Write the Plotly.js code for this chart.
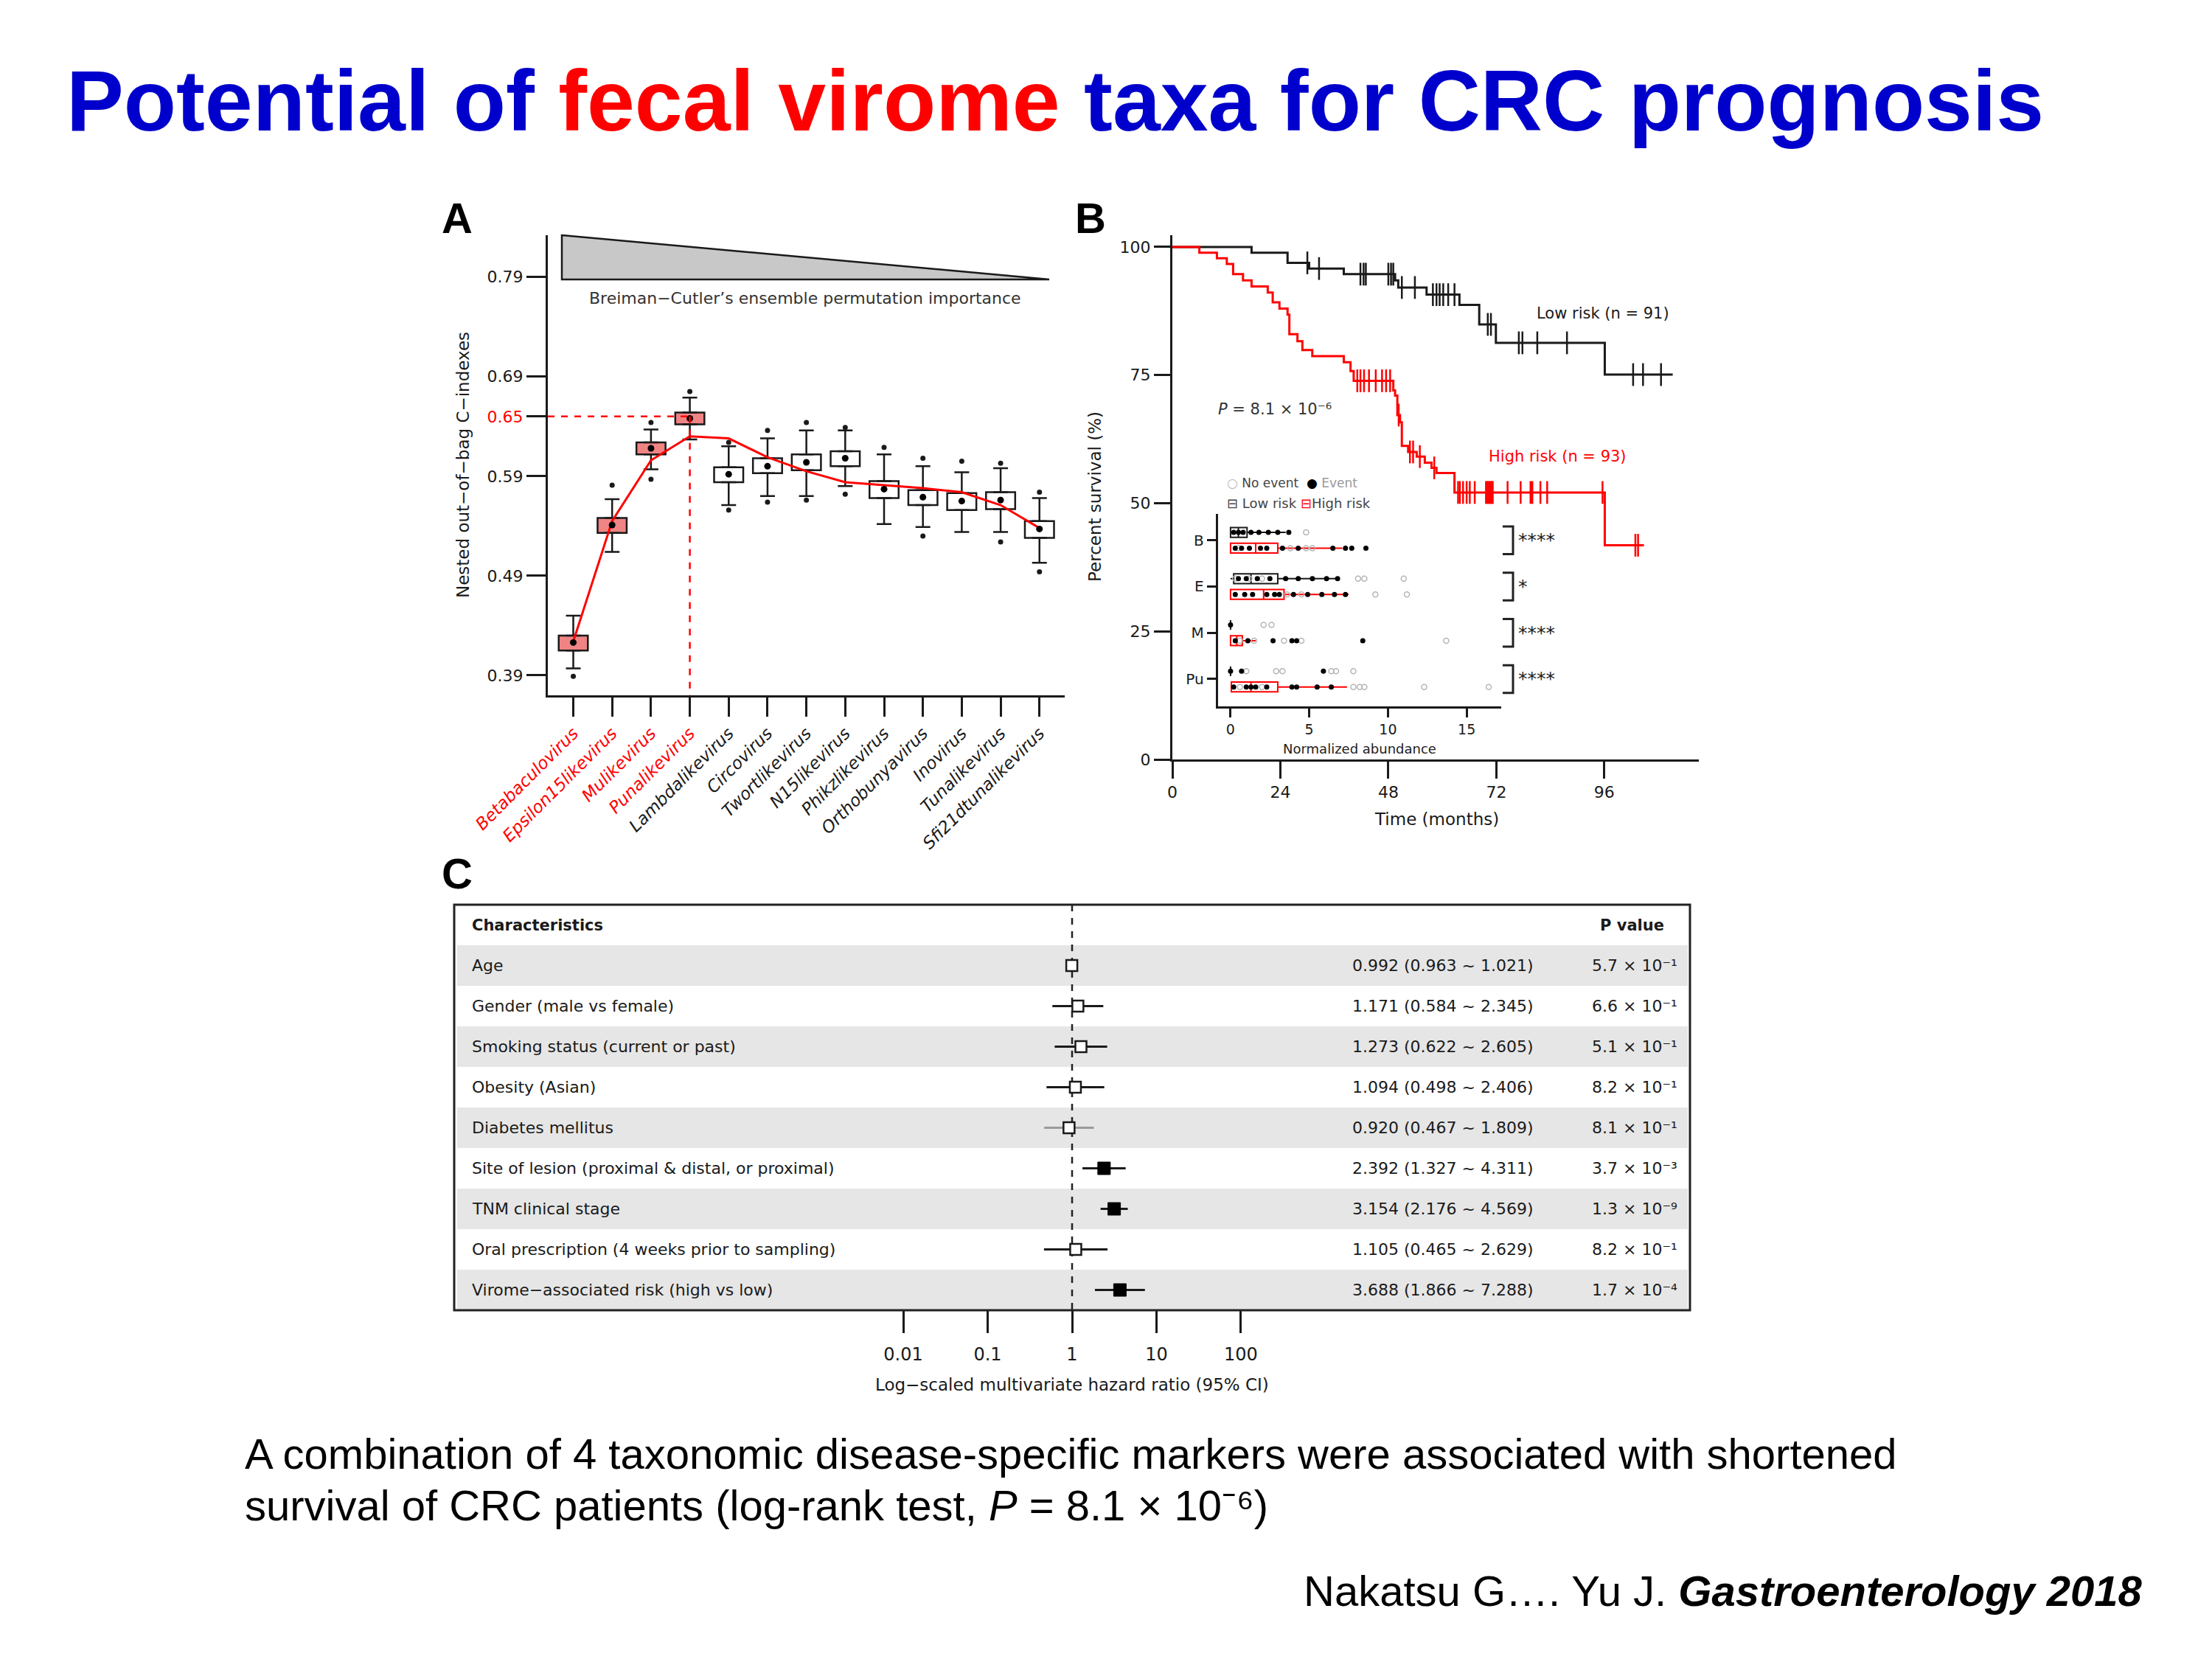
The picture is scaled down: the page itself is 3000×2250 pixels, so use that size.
<!DOCTYPE html>
<html><head><meta charset="utf-8">
<script src="https://cdn.plot.ly/plotly-3.0.1.min.js"></script>
<style>html,body{margin:0;padding:0;background:#fff;}#chart{width:3000px;height:2250px;}</style>
</head><body><div id="chart"></div>
<script>
// ================= DATA =================
// Panel A: nested out-of-bag C-indexes per genus (box statistics)
const genera = ['Betabaculovirus','Epsilon15likevirus','Mulikevirus','Punalikevirus','Lambdalikevirus','Circovirus','Twortlikevirus','N15likevirus','Phikzlikevirus','Orthobunyavirus','Inovirus','Tunalikevirus','Sfi21dtunalikevirus'];
const nSelected = 4;
const optimalC = 0.65;
const boxQ1  = [0.415,0.533,0.612,0.642,0.584,0.593,0.596,0.600,0.568,0.561,0.556,0.557,0.528];
const boxMed = [0.423,0.541,0.618,0.648,0.592,0.600,0.604,0.608,0.577,0.569,0.565,0.566,0.537];
const boxQ3  = [0.430,0.548,0.624,0.654,0.599,0.608,0.612,0.615,0.585,0.576,0.573,0.574,0.545];
const whiskLo = [0.397,0.514,0.597,0.627,0.561,0.570,0.570,0.580,0.542,0.539,0.534,0.534,0.503];
const whiskHi = [0.450,0.567,0.637,0.669,0.620,0.628,0.636,0.636,0.612,0.600,0.594,0.598,0.568];
const outlierGenus = ['Betabaculovirus','Epsilon15likevirus','Mulikevirus','Mulikevirus','Punalikevirus','Lambdalikevirus','Lambdalikevirus','Circovirus','Circovirus','Twortlikevirus','Twortlikevirus','N15likevirus','N15likevirus','Phikzlikevirus','Orthobunyavirus','Orthobunyavirus','Inovirus','Tunalikevirus','Tunalikevirus','Sfi21dtunalikevirus','Sfi21dtunalikevirus'];
const outlierC = [0.389,0.581,0.644,0.587,0.675,0.624,0.556,0.636,0.564,0.644,0.566,0.639,0.572,0.619,0.608,0.530,0.605,0.603,0.524,0.574,0.494];
const trendC = [0.424,0.545,0.606,0.630,0.628,0.609,0.595,0.584,0.581,0.578,0.574,0.561,0.538];
const yTicksA = [0.39,0.49,0.59,0.65,0.69,0.79];

// Panel B: Kaplan-Meier curves
const lowStepT = [17.6,25.6,30.4,38.1,49.5,50.2,56.5,63.8,68.2,71.9,96.1];
const lowStepS = [98.9,96.9,95.8,94.7,93.5,92.1,90.7,88.7,84.9,81.3,75.1];
const lowEndT = 111.2;
const lowCensorT = [30.0,32.6,41.8,42.5,43.0,48.0,48.6,49.1,51.0,53.9,57.9,58.7,59.4,60.2,61.3,62.7,70.1,70.8,77.0,77.8,81.1,87.7,102.4,104.6,108.6];
const highStepT = [6.0,9.9,12.1,13.5,15.7,17.6,21.2,22.3,23.8,25.6,26.0,27.8,28.9,31.1,38.1,39.6,40.3,49.1,49.5,50.0,50.6,51.0,52.4,54.3,56.1,57.6,58.7,62.7,96.1];
const highStepS = [98.9,97.8,96.7,94.7,93.5,92.3,91.1,89.2,88.0,86.8,83.0,81.6,79.9,78.7,77.5,75.8,73.9,72.0,71.0,67.2,65.8,61.2,60.0,59.1,57.9,56.9,55.9,52.1,41.8];
const highEndT = 104.8;
const highCensorT = [41.1,41.8,42.6,43.7,45.2,46.6,47.5,48.4,50.3,52.8,53.5,55.0,58.2,63.5,63.9,64.6,65.4,66.1,67.2,69.7,70.0,70.2,70.5,70.7,71.0,71.2,74.5,77.4,79.6,80.0,81.8,83.3,95.6,102.9,103.5];
const kmTicksX = [0,24,48,72,96];
const kmTicksY = [0,25,50,75,100];

// Panel B inset: normalized abundance of the four markers
const markers = ['B','E','M','Pu'];
const markerPos = [4,3,2,1];
const markerSig = ['****','*','****','****'];
const lowQ1 = [0.0,0.2,0.0,0.0], lowMed = [0.5,1.3,0.0,0.0], lowQ3 = [1.05,3.0,0.0,0.0], lowLo = [0,0,0,0], lowHi = [3.5,6.7,0.0,0.0];
const highQ1 = [0.0,0.0,0.0,0.05], highMed = [1.6,2.1,0.4,1.3], highQ3 = [3.0,3.4,0.75,3.0], highLo = [0,0,0,0], highHi = [7.1,7.5,1.6,7.4];
const lowEventVal = [[0.2,0.5,0.8,1.3,1.8,2.4,3.0,3.7],[0.5,1.0,1.7,2.5,3.5,4.3,5.2,6.1,6.8],[0.0],[0.0,0.7,5.9]];
const lowCensVal  = [[4.8],[0.3,1.2,2.0,8.1,8.5,11.0],[2.1,2.6],[1.0,2.9,3.3,6.4,6.7,7.8]];
const highEventVal = [[0.3,0.7,1.2,1.9,2.3,3.3,4.3,6.5,7.3,7.7,8.6],[0.3,0.9,1.4,2.3,2.8,3.1,4.0,4.9,5.8,6.6,7.3],[0.3,1.1,2.7,3.9,4.2,8.4],[0.2,1.0,1.3,1.6,2.3,3.9,4.2,5.5,6.4]];
const highCensVal  = [[0.5,3.8,4.8,5.2],[3.6,4.5,9.2,11.2],[0.6,1.5,3.4,4.5,13.7],[0.6,2.0,7.8,8.2,8.5,12.3,16.4]];
const abundTicks = [0,5,10,15];

// Panel C: multivariate Cox regression
const characteristics = ['Age','Gender (male vs female)','Smoking status (current or past)','Obesity (Asian)','Diabetes mellitus','Site of lesion (proximal &amp; distal, or proximal)','TNM clinical stage','Oral prescription (4 weeks prior to sampling)','Virome\u2212associated risk (high vs low)'];
const hr     = [0.992,1.171,1.273,1.094,0.920,2.392,3.154,1.105,3.688];
const hrLow  = [0.963,0.584,0.622,0.498,0.467,1.327,2.176,0.465,1.866];
const hrHigh = [1.021,2.345,2.605,2.406,1.809,4.311,4.569,2.629,7.288];
const pMantissa = [5.7,6.6,5.1,8.2,8.1,3.7,1.3,8.2,1.7];
const pExponent = [-1,-1,-1,-1,-1,-3,-9,-1,-4];
const hrTicks = [0.01,0.1,1,10,100];

// ================= HELPERS =================
const W = 3000, H = 2250;
const px = v => v / W;
const py = v => 1 - v / H;
const FIG = 'DejaVu Sans, Verdana, sans-serif';
const SLIDE = 'Liberation Sans, Arial, Helvetica, sans-serif';
const INK = '#1a1a1a';
const SUP = {'-': '\u207b', '0': '\u2070', '1': '\u00b9', '2': '\u00b2', '3': '\u00b3', '4': '\u2074', '5': '\u2075', '6': '\u2076', '7': '\u2077', '8': '\u2078', '9': '\u2079'};
const supNum = n => String(n).split('').map(c => SUP[c] || c).join('');

const traces = [];
const shapes = [];
const annotations = [];

function ann(text, x, y, o) {
  o = o || {};
  annotations.push(Object.assign({
    text: text, x: x, y: y, xref: 'paper', yref: 'paper', showarrow: false,
    xanchor: 'left', yanchor: 'middle',
    font: {family: FIG, size: 22, color: INK}
  }, o));
}

// ================= PANEL A =================
traces.push({
  type: 'bar', x: genera, base: boxQ1, y: boxQ3.map((q, i) => q - boxQ1[i]), width: 0.75,
  marker: {color: genera.map((g, i) => i < nSelected ? '#F08484' : '#FFFFFF'), line: {color: INK, width: 2.5}},
  xaxis: 'x', yaxis: 'y', hoverinfo: 'skip', showlegend: false
});
traces.push({
  type: 'scatter', mode: 'markers', x: genera, y: boxQ3, marker: {size: 1, opacity: 0},
  error_y: {type: 'data', symmetric: false, array: whiskHi.map((w, i) => w - boxQ3[i]), arrayminus: boxQ3.map(() => 0), width: 10, thickness: 2.5, color: INK},
  xaxis: 'x', yaxis: 'y', showlegend: false, hoverinfo: 'skip'
});
traces.push({
  type: 'scatter', mode: 'markers', x: genera, y: boxQ1, marker: {size: 1, opacity: 0},
  error_y: {type: 'data', symmetric: false, array: boxQ1.map(() => 0), arrayminus: whiskLo.map((w, i) => boxQ1[i] - w), width: 10, thickness: 2.5, color: INK},
  xaxis: 'x', yaxis: 'y', showlegend: false, hoverinfo: 'skip'
});
traces.push({
  type: 'scatter', mode: 'markers', x: outlierGenus, y: outlierC,
  marker: {symbol: 'circle', size: 7, color: INK}, xaxis: 'x', yaxis: 'y', showlegend: false, hoverinfo: 'skip'
});
traces.push({
  type: 'scatter', mode: 'lines', x: genera, y: trendC, line: {color: '#FF0000', width: 3},
  xaxis: 'x', yaxis: 'y', showlegend: false, hoverinfo: 'skip'
});
traces.push({
  type: 'scatter', mode: 'markers', x: genera, y: boxMed, marker: {symbol: 'circle', size: 9, color: '#000'},
  xaxis: 'x', yaxis: 'y', showlegend: false, hoverinfo: 'skip'
});
// optimum marker lines
const optIdx = nSelected - 1;
shapes.push({type: 'line', xref: 'x', yref: 'y', x0: -0.655, x1: optIdx, y0: optimalC, y1: optimalC, line: {color: '#FF0000', width: 2.5, dash: 'dash'}});
shapes.push({type: 'line', xref: 'x', yref: 'y', x0: optIdx, x1: optIdx, y0: optimalC, y1: 0.37, line: {color: '#FF0000', width: 2.5, dash: 'dash'}});
// importance wedge
shapes.push({type: 'path', xref: 'paper', yref: 'paper',
  path: `M ${px(762)},${py(319)} L ${px(762)},${py(379)} L ${px(1423)},${py(379)} Z`,
  fillcolor: '#C8C8C8', line: {color: INK, width: 2.5}});
ann('Breiman\u2212Cutler\u2019s ensemble permutation importance', px(1092), py(404), {xanchor: 'center', font: {family: FIG, size: 22, color: '#333'}});
ann('Nested out\u2212of\u2212bag C\u2212indexes', px(628), py(631), {xanchor: 'center', textangle: -90, font: {family: FIG, size: 23, color: INK}});
ann('A', px(597), py(296), {font: {family: SLIDE, size: 58, weight: 'bold', color: '#000'}});

// ================= PANEL B =================
function levelAt(stepT, stepS, t) {
  let s = 100;
  for (let i = 0; i < stepT.length; i++) if (stepT[i] <= t) s = stepS[i];
  return s;
}
function kmTrace(stepT, stepS, endT, color) {
  return {type: 'scatter', mode: 'lines', x: [0].concat(stepT, [endT]), y: [100].concat(stepS, [stepS[stepS.length - 1]]),
    line: {shape: 'hv', color: color, width: 3}, xaxis: 'x2', yaxis: 'y2', showlegend: false, hoverinfo: 'skip'};
}
function censorTrace(stepT, stepS, cT, color) {
  return {type: 'scatter', mode: 'markers', x: cT, y: cT.map(t => levelAt(stepT, stepS, t)),
    marker: {symbol: 'line-ns-open', size: 22, color: color, line: {color: color, width: 2.5}}, xaxis: 'x2', yaxis: 'y2', showlegend: false, hoverinfo: 'skip'};
}
traces.push(kmTrace(lowStepT, lowStepS, lowEndT, INK));
traces.push(censorTrace(lowStepT, lowStepS, lowCensorT, INK));
traces.push(kmTrace(highStepT, highStepS, highEndT, '#FF0000'));
traces.push(censorTrace(highStepT, highStepS, highCensorT, '#FF0000'));

ann('B', px(1456), py(296), {font: {family: SLIDE, size: 58, weight: 'bold', color: '#000'}});
ann('Percent survival (%)', px(1485), py(674), {xanchor: 'center', textangle: -90, font: {family: FIG, size: 23, color: INK}});
ann('Time (months)', px(1948), py(1111), {xanchor: 'center', font: {family: FIG, size: 23, color: INK}});
ann('Low risk (n = 91)', px(2082), py(425), {font: {family: FIG, size: 21, color: INK}});
ann('High risk (n = 93)', px(2017), py(619), {font: {family: FIG, size: 21, color: '#FF0000'}});
ann('<i>P</i> = 8.1 \u00d7 10' + supNum('-6'), px(1650), py(555), {font: {family: FIG, size: 21, color: '#333'}});

// inset
const off = 0.17;
function insetBox(pos, q1, med, q3, lo, hi, color) {
  return {type: 'box', orientation: 'h', y: pos, q1: q1, median: med, q3: q3, lowerfence: lo, upperfence: hi,
    width: 0.21, whiskerwidth: 0, line: {color: color, width: 2}, fillcolor: 'rgba(255,255,255,0)',
    boxpoints: false, xaxis: 'x3', yaxis: 'y3', showlegend: false, hoverinfo: 'skip'};
}
traces.push(insetBox(markerPos.map(p => p + off), lowQ1, lowMed, lowQ3, lowLo, lowHi, INK));
traces.push(insetBox(markerPos.map(p => p - off), highQ1, highMed, highQ3, highLo, highHi, '#FF0000'));
function pointTrace(vals, shift, event) {
  const xs = [], ys = [];
  vals.forEach((arr, k) => arr.forEach(v => { xs.push(v); ys.push(markerPos[k] + shift); }));
  return {type: 'scatter', mode: 'markers', x: xs, y: ys,
    marker: event ? {symbol: 'circle', size: 7, color: '#000'} : {symbol: 'circle-open', size: 7, color: '#B5B5B5', line: {width: 1.5}},
    xaxis: 'x3', yaxis: 'y3', showlegend: false, hoverinfo: 'skip'};
}
traces.push(pointTrace(lowCensVal, off, false));
traces.push(pointTrace(highCensVal, -off, false));
traces.push(pointTrace(lowEventVal, off, true));
traces.push(pointTrace(highEventVal, -off, true));

markers.forEach((m, k) => {
  const c = markerPos[k];
  shapes.push({type: 'path', xref: 'paper', yref: 'y3',
    path: `M ${px(2038)},${c + 0.3} L ${px(2052)},${c + 0.3} L ${px(2052)},${c - 0.3} L ${px(2038)},${c - 0.3}`,
    line: {color: '#222', width: 3}});
  annotations.push({text: markerSig[k], x: px(2057), y: c, xref: 'paper', yref: 'y3', showarrow: false,
    xanchor: 'left', yanchor: 'middle', font: {family: FIG, size: 25, color: '#222'}});
});
ann('<span style="color:#bbb">\u25cb</span> No event  <span style="color:#000">\u25cf</span> <span style="color:#999">Event</span>', px(1662), py(655), {font: {family: FIG, size: 17, color: '#444'}});
ann('\u229f Low risk <span style="color:#FF0000">\u229f</span>High risk', px(1662), py(682), {font: {family: FIG, size: 18, color: '#444'}});
ann('Normalized abundance', px(1844), py(1015), {xanchor: 'center', font: {family: FIG, size: 18, color: '#222'}});

// ================= PANEL C =================
const nRows = characteristics.length;
const rowPos = characteristics.map((c, i) => i + 1);
rowPos.forEach(r => {
  if (r % 2 === 1) shapes.push({type: 'rect', xref: 'paper', yref: 'y4', x0: px(620), x1: px(2289), y0: r - 0.5, y1: r + 0.5,
    fillcolor: '#E6E6E6', line: {width: 0}, layer: 'below'});
});
shapes.push({type: 'rect', xref: 'paper', yref: 'paper', x0: px(616), x1: px(2292), y0: py(1777), y1: py(1227),
  line: {color: '#222', width: 3}, fillcolor: 'rgba(0,0,0,0)', layer: 'above'});

traces.push({type: 'scatter', mode: 'lines', x: [1, 1], y: [-0.5, nRows + 0.5], line: {color: '#222', width: 2.5, dash: 'dash'},
  xaxis: 'x4', yaxis: 'y4', showlegend: false, hoverinfo: 'skip'});
const pValue = pMantissa.map((m, i) => m * Math.pow(10, pExponent[i]));
rowPos.forEach((r, i) => {
  traces.push({type: 'scatter', mode: 'lines', x: [hrLow[i], hrHigh[i]], y: [r, r],
    line: {color: characteristics[i] === 'Diabetes mellitus' ? '#9A9A9A' : INK, width: 3},
    xaxis: 'x4', yaxis: 'y4', showlegend: false, hoverinfo: 'skip'});
});
const sigIdx = pValue.map((p, i) => i).filter(i => pValue[i] < 0.05);
const nsIdx = pValue.map((p, i) => i).filter(i => pValue[i] >= 0.05);
traces.push({type: 'scatter', mode: 'markers', x: nsIdx.map(i => hr[i]), y: nsIdx.map(i => rowPos[i]),
  marker: {symbol: 'square', size: 15, color: '#FFFFFF', line: {color: INK, width: 2.5}},
  xaxis: 'x4', yaxis: 'y4', showlegend: false, hoverinfo: 'skip'});
traces.push({type: 'scatter', mode: 'markers', x: sigIdx.map(i => hr[i]), y: sigIdx.map(i => rowPos[i]),
  marker: {symbol: 'square', size: 17, color: '#000', line: {color: '#000', width: 1}},
  xaxis: 'x4', yaxis: 'y4', showlegend: false, hoverinfo: 'skip'});

function rowAnn(text, x, r, o) {
  annotations.push(Object.assign({text: text, x: x, y: r, xref: 'paper', yref: 'y4', showarrow: false,
    xanchor: 'left', yanchor: 'middle', font: {family: FIG, size: 22, color: INK}}, o || {}));
}
rowAnn('Characteristics', px(638), 0, {font: {family: FIG, size: 21, weight: 'bold', color: INK}});
rowAnn('P value', px(2213), 0, {xanchor: 'center', font: {family: FIG, size: 21, weight: 'bold', color: INK}});
characteristics.forEach((c, i) => {
  const r = rowPos[i];
  rowAnn(c, px(638), r);
  rowAnn(`${hr[i].toFixed(3)} (${hrLow[i].toFixed(3)} ~ ${hrHigh[i].toFixed(3)})`, px(2082), r, {xanchor: 'right'});
  rowAnn(`${pMantissa[i].toFixed(1)} \u00d7 10${supNum(pExponent[i])}`, px(2157), r);
});
ann('Log\u2212scaled multivariate hazard ratio (95% CI)', px(1454), py(1878), {xanchor: 'center', font: {family: FIG, size: 23, color: INK}});
ann('C', px(597), py(1184), {font: {family: SLIDE, size: 58, weight: 'bold', color: '#000'}});

// ================= SLIDE TEXT =================
ann('<span style="color:#0000CC">Potential of </span><span style="color:#FF0000">fecal virome</span><span style="color:#0000CC"> taxa for CRC prognosis</span>',
  px(88), py(137), {font: {family: SLIDE, size: 116.6, weight: 'bold', color: '#0000CC'}});
ann('A combination of 4 taxonomic disease-specific markers were associated with shortened', px(330), py(1971), {font: {family: SLIDE, size: 58, color: '#000'}});
ann('survival of CRC patients (log-rank test, <i>P</i> = 8.1 \u00d7 10' + supNum('-6') + ')', px(330), py(2041), {font: {family: SLIDE, size: 58, color: '#000'}});
ann('Nakatsu G\u2026. Yu J. <b><i>Gastroenterology 2018</i></b>', px(2908), py(2157), {xanchor: 'right', font: {family: SLIDE, size: 58, color: '#000'}});

// ================= LAYOUT =================
const axBase = {showgrid: false, zeroline: false, showline: true, linecolor: INK, linewidth: 3,
  ticks: 'outside', tickcolor: INK, tickwidth: 3, fixedrange: true, automargin: false};
const layout = {
  width: W, height: H, margin: {l: 0, r: 0, t: 0, b: 0, pad: 0},
  paper_bgcolor: '#FFFFFF', plot_bgcolor: 'rgba(0,0,0,0)', showlegend: false, hovermode: false,
  font: {family: FIG, color: INK},
  xaxis: Object.assign({}, axBase, {domain: [px(743), px(1444)], anchor: 'y', type: 'category', range: [-0.655, 12.65],
    tickmode: 'array', tickvals: genera,
    ticktext: genera.map((g, i) => i < nSelected ? `<span style="color:#FF0000">${g}</span>` : g),
    tickangle: -45, ticklen: 26, tickfont: {family: FIG, size: 23, style: 'italic', color: INK}}),
  yaxis: Object.assign({}, axBase, {domain: [py(943), py(319)], anchor: 'x', range: [0.37, 0.832],
    tickmode: 'array', tickvals: yTicksA,
    ticktext: yTicksA.map(v => v === optimalC ? `<span style="color:#FF0000">${v.toFixed(2)}</span>` : v.toFixed(2)),
    ticklen: 26, tickfont: {family: FIG, size: 22, color: INK}}),
  xaxis2: Object.assign({}, axBase, {domain: [px(1590), px(2304)], anchor: 'y2', range: [0, 117],
    tickmode: 'array', tickvals: kmTicksX, ticklen: 23, tickfont: {family: FIG, size: 22, color: INK}}),
  yaxis2: Object.assign({}, axBase, {domain: [py(1030), py(319)], anchor: 'x2', range: [0, 102.3],
    tickmode: 'array', tickvals: kmTicksY, ticklen: 22, tickfont: {family: FIG, size: 22, color: INK}}),
  xaxis3: Object.assign({}, axBase, {domain: [px(1651.7), px(2035.6)], anchor: 'y3', range: [-0.806, 17.176],
    tickmode: 'array', tickvals: abundTicks, ticklen: 12, linewidth: 3, tickfont: {family: FIG, size: 19, color: INK}}),
  yaxis3: Object.assign({}, axBase, {domain: [py(958), py(696.7)], anchor: 'x3', range: [0.41, 4.574],
    tickmode: 'array', tickvals: markerPos, ticktext: markers, ticklen: 12, tickfont: {family: FIG, size: 20, color: INK}}),
  xaxis4: Object.assign({}, axBase, {domain: [px(616), px(2292)], anchor: 'y4', type: 'log', range: [-7.32, 7.32],
    showline: false, tickmode: 'array', tickvals: hrTicks, ticktext: hrTicks.map(String), ticklen: 30, ticklabelstandoff: 8,
    tickfont: {family: FIG, size: 24, color: INK}}),
  yaxis4: {domain: [py(1777), py(1227)], anchor: 'x4', range: [nRows + 0.5, -0.5], showgrid: false, zeroline: false,
    showline: false, showticklabels: false, ticks: '', fixedrange: true},
  shapes: shapes,
  annotations: annotations
};
Plotly.newPlot('chart', traces, layout, {displayModeBar: false, staticPlot: true});
</script>
</body></html>
